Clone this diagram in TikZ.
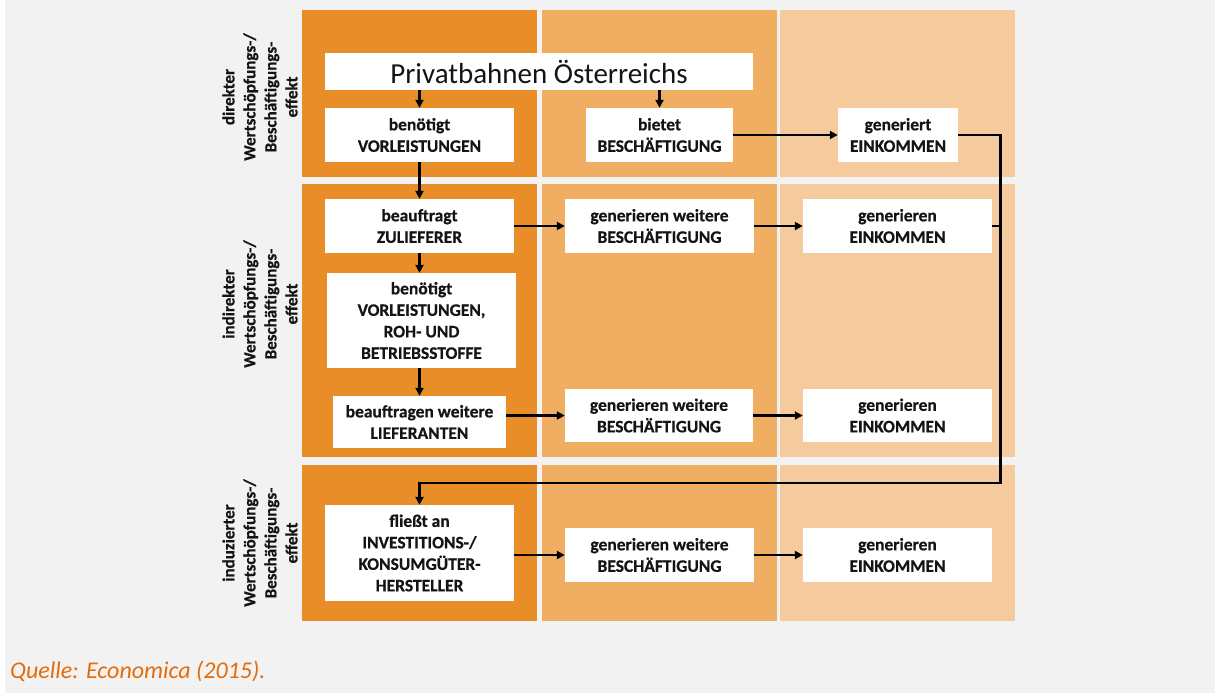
\documentclass[tikz,border=0pt]{standalone}
\usepackage{fontspec}
\setmainfont{Carlito}[BoldFeatures={FakeBold=0.6}]
\usetikzlibrary{arrows.meta}
\definecolor{cA}{RGB}{233,141,40}
\definecolor{cB}{RGB}{240,174,99}
\definecolor{cC}{RGB}{245,203,157}
\definecolor{bgc}{RGB}{242,242,242}
\definecolor{qc}{RGB}{228,108,10}
\definecolor{tc}{RGB}{20,20,20}
\begin{document}
\begin{tikzpicture}[x=1pt,y=-1pt,
  box/.style={fill=white,draw=none,inner sep=0pt,align=center,text=tc,font=\fontsize{17.5}{21.5}\selectfont\bfseries},
  arr/.style={line width=2.5pt,-{Triangle[length=8pt,width=8pt]}},
  ln/.style={line width=2.6pt},
  lab/.style={rotate=90,align=center,text=tc,font=\fontsize{17}{21}\selectfont\bfseries}]
\useasboundingbox (0,0) rectangle (1215,693);
\fill[white] (0,0) rectangle (1215,693);
\fill[bgc] (5,0) rectangle (1215,693);
% column panels
\foreach \ya/\yb in {10/177,184/457,465/621}{
  \fill[cA] (302,\ya) rectangle (537,\yb);
  \fill[cB] (542,\ya) rectangle (777,\yb);
  \fill[cC] (780,\ya) rectangle (1015,\yb);
}
% row labels
\node[lab] (l1) at (260,97) {direkter\\Wertschöpfungs-/\\Beschäftigungs-\\effekt};
\node[lab] (l2) at (260,304) {indirekter\\Wertschöpfungs-/\\Beschäftigungs-\\effekt};
\node[lab] (l3) at (260,543) {induzierter\\Wertschöpfungs-/\\Beschäftigungs-\\effekt};
% boxes
\node[box,minimum width=428pt,minimum height=37pt,font=\fontsize{29}{34}\selectfont] (priv) at (539,71.5) {Privatbahnen Österreichs};
\node[box,minimum width=189pt,minimum height=54pt] (vl1) at (419.5,135) {benötigt\\VORLEISTUNGEN};
\node[box,minimum width=147pt,minimum height=54pt] (biet) at (659.5,135) {bietet\\BESCHÄFTIGUNG};
\node[box,minimum width=120pt,minimum height=54pt] (ek1) at (898,135) {generiert\\EINKOMMEN};
\node[box,minimum width=189pt,minimum height=54pt] (zul) at (419.5,226) {beauftragt\\ZULIEFERER};
\node[box,minimum width=189pt,minimum height=95pt] (vl2) at (421.5,320.5) {benötigt\\VORLEISTUNGEN,\\ROH- UND\\BETRIEBSSTOFFE};
\node[box,minimum width=173pt,minimum height=52pt] (lief) at (419.5,422) {beauftragen weitere\\LIEFERANTEN};
\node[box,minimum width=189pt,minimum height=54pt] (gb2) at (659.5,226) {generieren weitere\\BESCHÄFTIGUNG};
\node[box,minimum width=189pt,minimum height=54pt] (ge2) at (897.5,226) {generieren\\EINKOMMEN};
\node[box,minimum width=188pt,minimum height=53pt] (gb3) at (659,415.5) {generieren weitere\\BESCHÄFTIGUNG};
\node[box,minimum width=189pt,minimum height=53pt] (ge3) at (897.5,415.5) {generieren\\EINKOMMEN};
\node[box,minimum width=189pt,minimum height=96pt] (fl) at (419.5,553) {fließt an\\INVESTITIONS-/\\KONSUMGÜTER-\\HERSTELLER};
\node[box,minimum width=189pt,minimum height=54pt] (gb4) at (659.5,555) {generieren weitere\\BESCHÄFTIGUNG};
\node[box,minimum width=189pt,minimum height=54pt] (ge4) at (897.5,555) {generieren\\EINKOMMEN};
% arrows
\draw[arr] (priv.south -| vl1.north) -- (vl1.north);
\draw[arr] (priv.south -| biet.north) -- (biet.north);
\draw[arr] (vl1.south) -- (zul.north);
\draw[arr] (zul.south) -- (vl2.north -| zul.south);
\draw[arr] (vl2.south -| lief.north) -- (lief.north);
\draw[arr] (biet.east) -- (ek1.west);
\draw[arr] (zul.east) -- (gb2.west);
\draw[arr] (gb2.east) -- (ge2.west);
\draw[arr] (gb3.west -| lief.east) -- (gb3.west);
\draw[arr] (gb3.east) -- (ge3.west);
\draw[arr] (gb4.west -| fl.east) -- (gb4.west);
\draw[arr] (gb4.east) -- (ge4.west);
% feedback loop
\coordinate (fbR) at (1000.5,483);
\draw[arr,line width=2.6pt] (ek1.east) -| (fbR) -| (fl.north);
\draw[ln] (ge2.east) -- (ge2.east -| fbR);
% source
\node[anchor=base west,inner sep=0pt,text=qc,font=\fontsize{24}{28}\selectfont\itshape] (src) at (10,678) {Quelle: Economica (2015).};
\end{tikzpicture}
\end{document}
